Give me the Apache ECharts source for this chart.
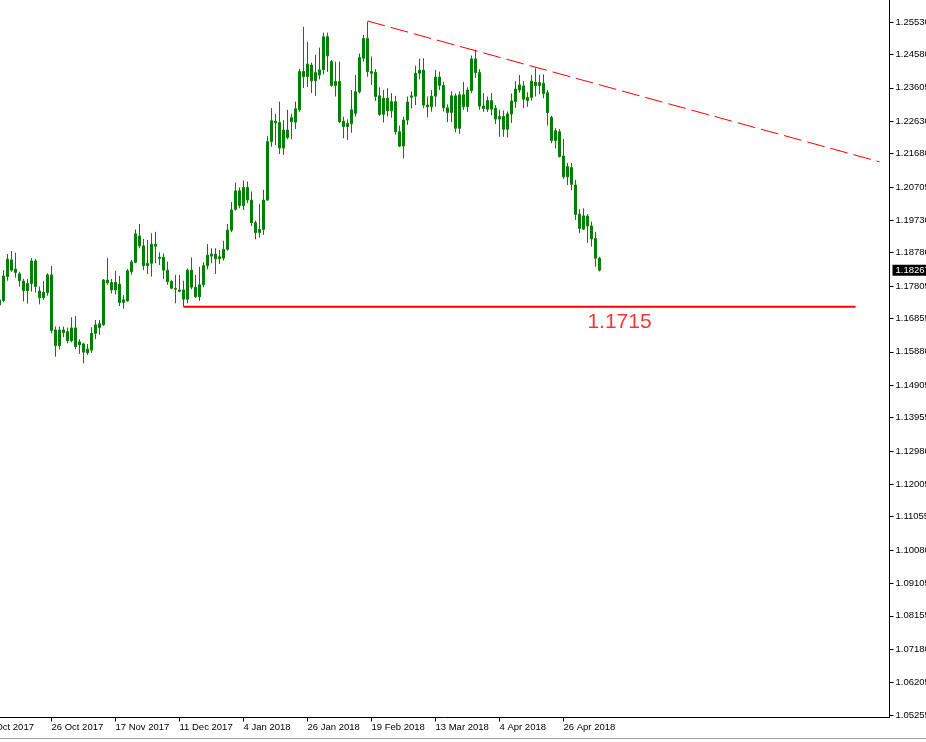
<!DOCTYPE html>
<html><head><meta charset="utf-8">
<script src="https://cdn.jsdelivr.net/npm/echarts@6/dist/echarts.min.js"></script>
<style>html,body{margin:0;padding:0;background:#fff}#c{width:926px;height:742px}</style>
</head><body><div id="c"></div>
<script>
// Leading dates: only their axis label is (partly) visible at the left edge
const LEAD_DATES = ['4 Oct 2017','5 Oct 2017','6 Oct 2017'];
const DATES = [
'9 Oct 2017','10 Oct 2017','11 Oct 2017','12 Oct 2017','13 Oct 2017','16 Oct 2017','17 Oct 2017','18 Oct 2017','19 Oct 2017','20 Oct 2017','23 Oct 2017','24 Oct 2017','25 Oct 2017','26 Oct 2017','27 Oct 2017','30 Oct 2017','31 Oct 2017',
'1 Nov 2017','2 Nov 2017','3 Nov 2017','6 Nov 2017','7 Nov 2017','8 Nov 2017','9 Nov 2017','10 Nov 2017','13 Nov 2017','14 Nov 2017','15 Nov 2017','16 Nov 2017','17 Nov 2017','20 Nov 2017','21 Nov 2017','22 Nov 2017','23 Nov 2017','24 Nov 2017','27 Nov 2017','28 Nov 2017','29 Nov 2017','30 Nov 2017',
'1 Dec 2017','4 Dec 2017','5 Dec 2017','6 Dec 2017','7 Dec 2017','8 Dec 2017','11 Dec 2017','12 Dec 2017','13 Dec 2017','14 Dec 2017','15 Dec 2017','18 Dec 2017','19 Dec 2017','20 Dec 2017','21 Dec 2017','22 Dec 2017','26 Dec 2017','27 Dec 2017','28 Dec 2017','29 Dec 2017',
'2 Jan 2018','3 Jan 2018','4 Jan 2018','5 Jan 2018','8 Jan 2018','9 Jan 2018','10 Jan 2018','11 Jan 2018','12 Jan 2018','15 Jan 2018','16 Jan 2018','17 Jan 2018','18 Jan 2018','19 Jan 2018','22 Jan 2018','23 Jan 2018','24 Jan 2018','25 Jan 2018','26 Jan 2018','29 Jan 2018','30 Jan 2018','31 Jan 2018',
'1 Feb 2018','2 Feb 2018','5 Feb 2018','6 Feb 2018','7 Feb 2018','8 Feb 2018','9 Feb 2018','12 Feb 2018','13 Feb 2018','14 Feb 2018','15 Feb 2018','16 Feb 2018','19 Feb 2018','20 Feb 2018','21 Feb 2018','22 Feb 2018','23 Feb 2018','26 Feb 2018','27 Feb 2018','28 Feb 2018',
'1 Mar 2018','2 Mar 2018','5 Mar 2018','6 Mar 2018','7 Mar 2018','8 Mar 2018','9 Mar 2018','12 Mar 2018','13 Mar 2018','14 Mar 2018','15 Mar 2018','16 Mar 2018','19 Mar 2018','20 Mar 2018','21 Mar 2018','22 Mar 2018','23 Mar 2018','26 Mar 2018','27 Mar 2018','28 Mar 2018','29 Mar 2018','30 Mar 2018',
'2 Apr 2018','3 Apr 2018','4 Apr 2018','5 Apr 2018','6 Apr 2018','9 Apr 2018','10 Apr 2018','11 Apr 2018','12 Apr 2018','13 Apr 2018','16 Apr 2018','17 Apr 2018','18 Apr 2018','19 Apr 2018','20 Apr 2018','23 Apr 2018','24 Apr 2018','25 Apr 2018','26 Apr 2018','27 Apr 2018','30 Apr 2018',
'1 May 2018','2 May 2018','3 May 2018','4 May 2018','7 May 2018','8 May 2018','9 May 2018'
];
const OPEN = [
1.1725,1.1738,1.1808,1.1857,1.1830,1.1816,1.1795,1.1767,1.1788,1.1854,
1.1766,1.1746,1.1761,1.1813,1.1652,1.1606,1.1652,1.1647,1.1620,1.1658,
1.1609,1.1611,1.1585,1.1593,1.1642,1.1659,1.1667,1.1790,1.1791,1.1769,
1.1786,1.1732,1.1737,1.1822,1.1850,1.1927,1.1898,1.1840,1.1847,1.1897,
1.1861,1.1865,1.1827,1.1794,1.1773,1.1765,1.1769,1.1742,1.1827,1.1777,
1.1749,1.1784,1.1840,1.1868,1.1874,1.1860,1.1862,1.1888,1.1944,1.2005,
1.2059,1.2016,1.2069,1.2032,1.1966,1.1937,1.1946,1.2032,1.2203,1.2258,
1.2259,1.2184,1.2237,1.2273,1.2260,1.2296,1.2408,1.2393,1.2427,1.2381,
1.2398,1.2413,1.2510,1.2437,1.2367,1.2379,1.2263,1.2247,1.2256,1.2286,
1.2349,1.2447,1.2505,1.2403,1.2406,1.2337,1.2283,1.2330,1.2293,1.2320,
1.2232,1.2190,1.2266,1.2333,1.2336,1.2403,1.2412,1.2310,1.2305,1.2336,
1.2392,1.2367,1.2302,1.2288,1.2337,1.2242,1.2340,1.2305,1.2352,1.2445,
1.2405,1.2300,1.2298,1.2323,1.2301,1.2269,1.2277,1.2239,1.2284,1.2320,
1.2354,1.2366,1.2323,1.2332,1.2377,1.2367,1.2374,1.2346,1.2274,1.2206,
1.2232,1.2161,1.2100,1.2127,1.2076,1.1991,1.1947,1.1985,1.1956,1.1920,1.1862
];
const HIGH = [
1.1745,1.1827,1.1874,1.1883,1.1878,1.1822,1.1802,1.1801,1.1862,1.1860,
1.1779,1.1795,1.1818,1.1839,1.1662,1.1662,1.1662,1.1659,1.1689,1.1693,
1.1625,1.1615,1.1611,1.1660,1.1681,1.1681,1.1801,1.1862,1.1801,1.1825,
1.1810,1.1754,1.1830,1.1857,1.1946,1.1962,1.1918,1.1915,1.1935,1.1939,
1.1879,1.1876,1.1852,1.1798,1.1813,1.1813,1.1796,1.1832,1.1864,1.1813,
1.1837,1.1850,1.1903,1.1891,1.1891,1.1886,1.1913,1.1962,1.2026,1.2083,
1.2069,1.2089,1.2086,1.2057,1.1972,1.2021,1.2062,1.2220,1.2301,1.2284,
1.2320,1.2266,1.2296,1.2285,1.2320,1.2416,1.2539,1.2495,1.2434,1.2457,
1.2478,1.2522,1.2522,1.2442,1.2437,1.2437,1.2276,1.2268,1.2354,1.2398,
1.2461,1.2515,1.2554,1.2452,1.2415,1.2362,1.2354,1.2359,1.2345,1.2337,
1.2250,1.2276,1.2335,1.2350,1.2425,1.2446,1.2447,1.2335,1.2354,1.2412,
1.2408,1.2378,1.2312,1.2350,1.2344,1.2350,1.2378,1.2362,1.2455,1.2472,
1.2415,1.2345,1.2335,1.2345,1.2310,1.2296,1.2294,1.2291,1.2344,1.2380,
1.2398,1.2380,1.2347,1.2398,1.2418,1.2398,1.2400,1.2354,1.2278,1.2242,
1.2240,1.2211,1.2141,1.2141,1.2091,1.2005,1.2008,1.1991,1.1969,1.1939,1.1866
];
const LOW = [
1.1720,1.1733,1.1796,1.1822,1.1805,1.1779,1.1735,1.1729,1.1764,1.1761,
1.1727,1.1740,1.1752,1.1642,1.1574,1.1595,1.1631,1.1613,1.1616,1.1596,
1.1582,1.1554,1.1579,1.1585,1.1625,1.1638,1.1664,1.1784,1.1759,1.1756,
1.1722,1.1714,1.1735,1.1814,1.1847,1.1891,1.1827,1.1816,1.1808,1.1847,
1.1842,1.1801,1.1784,1.1771,1.1730,1.1762,1.1720,1.1730,1.1771,1.1746,
1.1737,1.1777,1.1829,1.1847,1.1816,1.1845,1.1855,1.1884,1.1938,1.2001,
1.2008,1.2003,1.2023,1.1956,1.1917,1.1922,1.1930,1.2030,1.2188,1.2193,
1.2167,1.2164,1.2210,1.2210,1.2240,1.2290,1.2360,1.2363,1.2345,1.2337,
1.2385,1.2400,1.2407,1.2364,1.2335,1.2257,1.2213,1.2208,1.2229,1.2276,
1.2344,1.2437,1.2393,1.2369,1.2322,1.2278,1.2259,1.2277,1.2273,1.2224,
1.2187,1.2154,1.2252,1.2300,1.2310,1.2385,1.2301,1.2274,1.2291,1.2305,
1.2354,1.2291,1.2260,1.2260,1.2230,1.2225,1.2296,1.2290,1.2345,1.2390,
1.2296,1.2290,1.2290,1.2280,1.2255,1.2217,1.2217,1.2215,1.2258,1.2302,
1.2346,1.2301,1.2305,1.2323,1.2335,1.2342,1.2330,1.2250,1.2198,1.2183,
1.2157,1.2094,1.2076,1.2061,1.1974,1.1935,1.1944,1.1907,1.1896,1.1837,1.1823
];
const CLOSE = [
1.1740,1.1810,1.1859,1.1827,1.1820,1.1796,1.1767,1.1788,1.1854,1.1779,
1.1746,1.1762,1.1813,1.1650,1.1606,1.1652,1.1644,1.1620,1.1658,1.1603,
1.1617,1.1587,1.1596,1.1642,1.1667,1.1670,1.1798,1.1798,1.1769,1.1791,
1.1732,1.1740,1.1825,1.1851,1.1933,1.1898,1.1840,1.1847,1.1903,1.1903,
1.1865,1.1827,1.1793,1.1774,1.1771,1.1769,1.1742,1.1827,1.1777,1.1749,
1.1784,1.1840,1.1871,1.1874,1.1860,1.1866,1.1888,1.1944,1.2003,1.2059,
1.2016,1.2069,1.2032,1.1966,1.1937,1.1946,1.2032,1.2203,1.2264,1.2263,
1.2184,1.2237,1.2215,1.2261,1.2299,1.2408,1.2393,1.2430,1.2381,1.2405,
1.2413,1.2510,1.2454,1.2367,1.2379,1.2261,1.2247,1.2256,1.2296,1.2349,
1.2449,1.2505,1.2408,1.2408,1.2335,1.2283,1.2330,1.2293,1.2320,1.2232,
1.2190,1.2266,1.2319,1.2337,1.2403,1.2412,1.2310,1.2305,1.2336,1.2392,
1.2367,1.2302,1.2288,1.2337,1.2242,1.2340,1.2305,1.2354,1.2445,1.2405,
1.2307,1.2307,1.2323,1.2298,1.2269,1.2277,1.2239,1.2284,1.2322,1.2357,
1.2369,1.2327,1.2332,1.2380,1.2367,1.2376,1.2344,1.2288,1.2206,1.2235,
1.2159,1.2100,1.2130,1.2078,1.1990,1.1949,1.1986,1.1956,1.1918,1.1862,1.1827
];
const X_LABELS = ['4 Oct 2017','26 Oct 2017','17 Nov 2017','11 Dec 2017','4 Jan 2018','26 Jan 2018','19 Feb 2018','13 Mar 2018','4 Apr 2018','26 Apr 2018'];
const Y_LABELS = [1.25530,1.24580,1.23605,1.22630,1.21680,1.20705,1.19730,1.18780,1.17805,1.16855,1.15880,1.14905,1.13955,1.12980,1.12005,1.11055,1.10080,1.09105,1.08155,1.07180,1.06205,1.05255];
const CURRENT_PRICE = 1.18267;
// [category index, price]
const SUPPORT_LINE = [[49, 1.1720], [217, 1.1720]];
const SUPPORT_TEXT = '1.1715';
const SUPPORT_TEXT_AT = [158, 1.1676];
const TREND_LINE = [[95, 1.2556], [223, 1.2144]];

const categories = LEAD_DATES.concat(DATES);
const candleData = LEAD_DATES.map(() => ['-','-','-','-'])
  .concat(DATES.map((d, i) => [OPEN[i], CLOSE[i], LOW[i], HIGH[i]]));

const FONT = 'Liberation Sans';
const chart = echarts.init(document.getElementById('c'), null, {renderer: 'canvas'});
const isLabel = (idx, val) => X_LABELS.includes(val);
chart.setOption({
  animation: false,
  backgroundColor: '#ffffff',
  grid: {left: -14.5, right: 36.5, top: 0, bottom: 24.5, containLabel: false, outerBoundsMode: 'none'},
  xAxis: {
    type: 'category',
    data: categories,
    max: 225,
    boundaryGap: true,
    axisLine: {show: true, lineStyle: {color: '#000', width: 1}},
    axisTick: {show: true, alignWithLabel: true, length: 4, interval: isLabel, lineStyle: {color: '#000'}},
    axisLabel: {show: true, interval: isLabel, align: 'left', margin: 5, color: '#000', fontSize: 9.5, fontFamily: FONT},
    splitLine: {show: false}
  },
  yAxis: {
    type: 'value',
    position: 'right',
    min: 1.05180,
    max: 1.26174,
    scale: true,
    axisLine: {show: true, lineStyle: {color: '#000', width: 1}},
    axisTick: {show: true, length: 4, customValues: Y_LABELS, lineStyle: {color: '#000'}},
    axisLabel: {show: true, customValues: Y_LABELS, margin: 6, color: '#000', fontSize: 9.5, fontFamily: FONT,
      formatter: v => v.toFixed(5)},
    splitLine: {show: false}
  },
  series: [
    {
      type: 'candlestick',
      data: candleData,
      barWidth: 2,
      clip: false,
      itemStyle: {color: '#008000', color0: '#ff0000', borderColor: '#008000', borderColor0: '#008000', borderColorDoji: '#008000', borderWidth: 1},
      markLine: {
        silent: true,
        precision: 5,
        symbol: ['none', 'none'],
        lineStyle: {color: 'rgba(0,0,0,0)', width: 1, opacity: 1},
        label: {show: true, position: 'end', distance: 3, formatter: () => CURRENT_PRICE.toFixed(5), opacity: 1,
          backgroundColor: '#000', color: '#fff', padding: [1, 4, 1, 3], fontSize: 9.5, fontFamily: FONT, lineHeight: 9},
        data: [{yAxis: CURRENT_PRICE}]
      }
    },
    {
      type: 'line',
      data: SUPPORT_LINE,
      symbol: 'none',
      silent: true,
      lineStyle: {color: '#ff0000', width: 2}
    },
    {
      type: 'scatter',
      data: [SUPPORT_TEXT_AT],
      symbol: 'rect',
      symbolSize: 1,
      silent: true,
      itemStyle: {color: 'rgba(0,0,0,0)'},
      label: {show: true, position: 'inside', formatter: () => SUPPORT_TEXT, color: '#ff0000', fontSize: 21, fontFamily: FONT}
    },
    {
      type: 'line',
      data: TREND_LINE,
      symbol: 'none',
      silent: true,
      lineStyle: {color: '#ff0000', width: 1, type: [18, 6]}
    }
  ],
  graphic: [
    {type: 'line', silent: true, shape: {x1: 0, y1: 738.5, x2: 926, y2: 738.5}, style: {stroke: '#a0a0a0', lineWidth: 1}}
  ]
});
</script>
</body></html>
